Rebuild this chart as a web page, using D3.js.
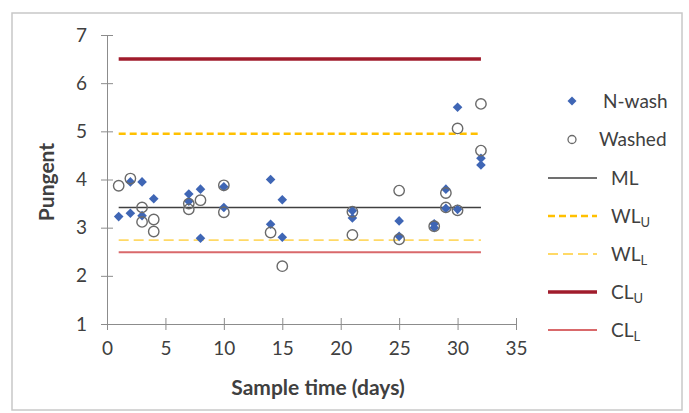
<!DOCTYPE html>
<html>
<head>
<meta charset="utf-8">
<script src="https://cdn.jsdelivr.net/npm/d3@7"></script>
<style>
  body { margin: 0; background: #fff; }
  svg text { font-family: Lato, "Open Sans", sans-serif; fill: #404040; }
</style>
</head>
<body>
<svg id="chart" width="689" height="413"></svg>
<script>
// sample days and scores
var nwashDays = [1, 2, 2, 3, 3, 4, 7, 7, 8, 8, 10, 10, 14, 14, 15, 15, 21, 21, 25, 25, 28, 28, 29, 29, 30, 30, 32, 32];
var nwashValues = [3.23, 3.95, 3.3, 3.95, 3.25, 3.6, 3.7, 3.55, 3.8, 2.78, 3.85, 3.42, 4.0, 3.07, 3.58, 2.8, 3.35, 3.2, 3.14, 2.82, 3.08, 3.0, 3.8, 3.4, 5.5, 3.38, 4.44, 4.3];

var washedDays = [1, 2, 3, 3, 4, 4, 7, 7, 8, 10, 10, 14, 15, 21, 21, 25, 25, 28, 29, 29, 30, 30, 32, 32];
var washedValues = [3.87, 4.02, 3.42, 3.12, 3.17, 2.92, 3.5, 3.38, 3.57, 3.88, 3.32, 2.9, 2.2, 3.33, 2.85, 3.77, 2.76, 3.03, 3.72, 3.42, 5.06, 3.36, 5.57, 4.6];

// control chart limits
var limitNames = ["ML", "WLU", "WLL", "CLU", "CLL"];
var limitValues = [3.42, 4.95, 2.74, 6.5, 2.49];
var limitStart = 1, limitEnd = 32;

var xTicks = [0, 5, 10, 15, 20, 25, 30, 35];
var yTicks = [1, 2, 3, 4, 5, 6, 7];

var limitStyle = {
  ML:  { color: "#404040", width: 1.6, dash: null },
  WLU: { color: "#FFC000", width: 2.6, dash: "7,4" },
  WLL: { color: "#FFD966", width: 1.8, dash: "10,5" },
  CLU: { color: "#A01C2C", width: 3.5, dash: null },
  CLL: { color: "#D9696B", width: 2.2, dash: null }
};

var svg = d3.select("#chart");

svg.append("rect")
  .attr("x", 12).attr("y", 13)
  .attr("width", 670).attr("height", 397)
  .attr("fill", "#fff")
  .attr("stroke", "#c8c8c8")
  .attr("stroke-width", 1.5);

var x = d3.scaleLinear().domain([0, 35]).range([107, 516]);
var y = d3.scaleLinear().domain([1, 7]).range([324, 35]);

// y axis with ticks crossing the line
var yAxis = svg.append("g")
  .attr("transform", "translate(" + x(0) + ",0)")
  .call(d3.axisLeft(y).tickValues(yTicks).tickFormat(d3.format("d"))
    .tickSize(6).tickSizeOuter(0).tickPadding(14));
yAxis.selectAll(".tick line").attr("x1", 6).attr("x2", -6);

var xAxis = svg.append("g")
  .attr("transform", "translate(0," + y(1) + ")")
  .call(d3.axisBottom(x).tickValues(xTicks).tickFormat(d3.format("d"))
    .tickSize(6).tickSizeOuter(0).tickPadding(12));
xAxis.selectAll(".tick line").attr("y1", -6).attr("y2", 6);

svg.selectAll(".domain, .tick line").attr("stroke", "#8c8c8c").attr("stroke-width", 1);
svg.selectAll(".tick text")
  .style("font-size", "19px")
  .style("font-family", "Lato, sans-serif")
  .attr("fill", "#404040");

// limit lines
limitNames.forEach(function(name, i) {
  var s = limitStyle[name];
  svg.append("line")
    .attr("x1", x(limitStart)).attr("x2", x(limitEnd))
    .attr("y1", y(limitValues[i])).attr("y2", y(limitValues[i]))
    .attr("stroke", s.color)
    .attr("stroke-width", s.width)
    .attr("stroke-dasharray", s.dash);
});

var diamond = function(r) {
  return "M0," + (-r) + "L" + r + ",0L0," + r + "L" + (-r) + ",0Z";
};

svg.append("g").selectAll("path")
  .data(nwashValues)
  .enter()
  .append("path")
  .attr("d", diamond(4.8))
  .attr("transform", function(d, i) {
    return "translate(" + x(nwashDays[i]) + "," + y(d) + ")";
  })
  .attr("fill", "#3F66B5");

svg.append("g").selectAll("circle")
  .data(washedValues)
  .enter()
  .append("circle")
  .attr("cx", function(d, i) { return x(washedDays[i]); })
  .attr("cy", function(d) { return y(d); })
  .attr("r", 5.2)
  .attr("fill", "none")
  .attr("stroke", "#6a6a6a")
  .attr("stroke-width", 1.4);

// axis titles
svg.append("text")
  .attr("x", 318).attr("y", 395)
  .attr("text-anchor", "middle")
  .style("font-size", "21px")
  .style("font-weight", "bold")
  .text("Sample time (days)");

svg.append("text")
  .attr("transform", "translate(54,182) rotate(-90)")
  .attr("text-anchor", "middle")
  .style("font-size", "21px")
  .style("font-weight", "bold")
  .text("Pungent");

// legend
var legendY = [101, 139.5, 178, 216, 254, 292, 330];

var lgN = svg.append("g");
lgN.append("path")
  .attr("d", diamond(4.5))
  .attr("transform", "translate(572," + legendY[0] + ")")
  .attr("fill", "#3F66B5");
lgN.append("text")
  .attr("x", 603).attr("y", legendY[0]).attr("dy", "0.35em")
  .style("font-size", "19px")
  .text("N-wash");

var lgW = svg.append("g");
lgW.append("circle")
  .attr("cx", 572).attr("cy", legendY[1]).attr("r", 4)
  .attr("fill", "none").attr("stroke", "#6a6a6a").attr("stroke-width", 1.3);
lgW.append("text")
  .attr("x", 599).attr("y", legendY[1]).attr("dy", "0.35em")
  .style("font-size", "19px")
  .text("Washed");

limitNames.forEach(function(name, i) {
  var s = limitStyle[name];
  var ly = legendY[i + 2];
  svg.append("line")
    .attr("x1", 548).attr("x2", 597)
    .attr("y1", ly).attr("y2", ly)
    .attr("stroke", s.color)
    .attr("stroke-width", s.width)
    .attr("stroke-dasharray", s.dash);
  var t = svg.append("text")
    .attr("x", 611).attr("y", ly).attr("dy", "0.35em")
    .style("font-size", "19px");
  if (name == "ML") {
    t.text("ML");
  } else {
    t.append("tspan").text(name.slice(0, 2));
    t.append("tspan")
      .attr("dy", "0.3em")
      .style("font-size", "13px")
      .text(name.slice(2));
  }
});
</script>
</body>
</html>
